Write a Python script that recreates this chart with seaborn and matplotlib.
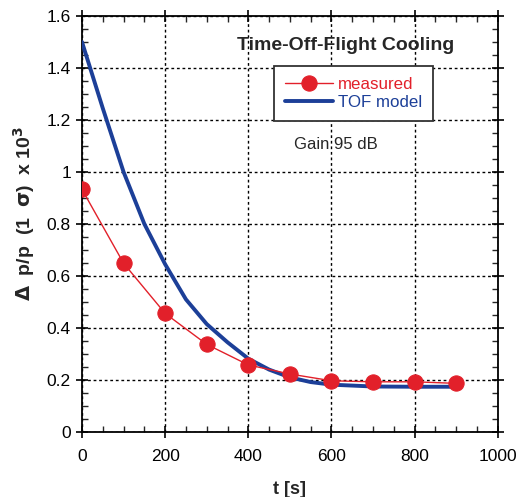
import matplotlib
matplotlib.use("Agg")
import matplotlib.pyplot as plt
import seaborn as sns
import pandas as pd
from matplotlib.ticker import MultipleLocator

t_measured = [0, 100, 200, 300, 400, 500, 600, 700, 800, 900]
dp_measured = [0.933, 0.649, 0.456, 0.337, 0.258, 0.223, 0.197, 0.193, 0.193, 0.187]

t_model = [0, 50, 100, 150, 200, 250, 300, 350, 400, 450, 500, 550, 600, 700, 800, 900]
dp_model = [1.50, 1.245, 1.00, 0.80, 0.645, 0.51, 0.415, 0.345, 0.282, 0.24, 0.21, 0.192, 0.182, 0.175, 0.174, 0.174]

xticks = [0, 200, 400, 600, 800, 1000]
yticks = [0, 0.2, 0.4, 0.6, 0.8, 1.0, 1.2, 1.4, 1.6]
ytick_labels = ["0", "0.2", "0.4", "0.6", "0.8", "1", "1.2", "1.4", "1.6"]

sns.set_style("white")
plt.rcParams['font.family'] = ['Liberation Sans', 'DejaVu Sans']

red = "#e2202a"
blue = "#1c3f98"

fig = plt.figure(figsize=(5.24, 4.97), dpi=100)
ax = fig.add_axes([0.1565, 0.1308, 0.7935, 0.8370])

df_meas = pd.DataFrame({"t": t_measured, "dp": dp_measured})
df_model = pd.DataFrame({"t": t_model, "dp": dp_model})

sns.lineplot(data=df_meas, x="t", y="dp", ax=ax, color=red, lw=1.0,
             marker="o", markersize=11, markeredgecolor=red, label="measured", zorder=4)
sns.lineplot(data=df_model, x="t", y="dp", ax=ax, color=blue, lw=2.8,
             label="TOF model", zorder=3)

ax.set_xlim(0, 1000)
ax.set_ylim(0, 1.6)
ax.set_xticks(xticks)
ax.set_yticks(yticks)
ax.set_yticklabels(ytick_labels)
ax.xaxis.set_minor_locator(MultipleLocator(50))
ax.yaxis.set_minor_locator(MultipleLocator(0.05))
ax.tick_params(which="major", direction="inout", length=9, width=1.2,
               top=True, right=True, bottom=True, left=True, labelsize=12.5, colors="black")
ax.tick_params(which="minor", direction="in", length=4, width=1.0,
               top=True, right=True, bottom=True, left=True)
ax.tick_params(axis="x", pad=8)
for s in ax.spines.values():
    s.set_color("black")
    s.set_linewidth(1.3)

ax.grid(True, which="major", color="black", linestyle=(0, (2, 2)), linewidth=1.0)
ax.set_axisbelow(True)

ax.set_xlabel("t [s]", fontsize=13, fontweight="bold", labelpad=12)
ax.set_ylabel(r"$\mathbf{\Delta}$  p/p  (1  $\mathbf{\sigma}$)  x 10$^{\mathbf{3}}$",
              fontsize=14, fontweight="bold", labelpad=4)
ax.yaxis.set_label_coords(-0.108, 0.525)

ax.text(0.635, 0.930, "Time-Off-Flight Cooling", transform=ax.transAxes,
        ha="center", va="center", fontsize=14, fontweight="bold")
ax.text(0.61, 0.692, "Gain 95 dB", transform=ax.transAxes,
        ha="center", va="center", fontsize=12)

leg = ax.legend(loc="upper left", bbox_to_anchor=(0.462, 0.880), frameon=True,
                fontsize=12.2, labelcolor="linecolor", fancybox=False,
                handlelength=2.8, handletextpad=0.3, borderpad=0.65,
                labelspacing=0.2, borderaxespad=0)
leg.get_frame().set_edgecolor("#333333")
leg.get_frame().set_linewidth(1.3)
leg.get_frame().set_alpha(1)

fig.savefig("out.png", dpi=100)
